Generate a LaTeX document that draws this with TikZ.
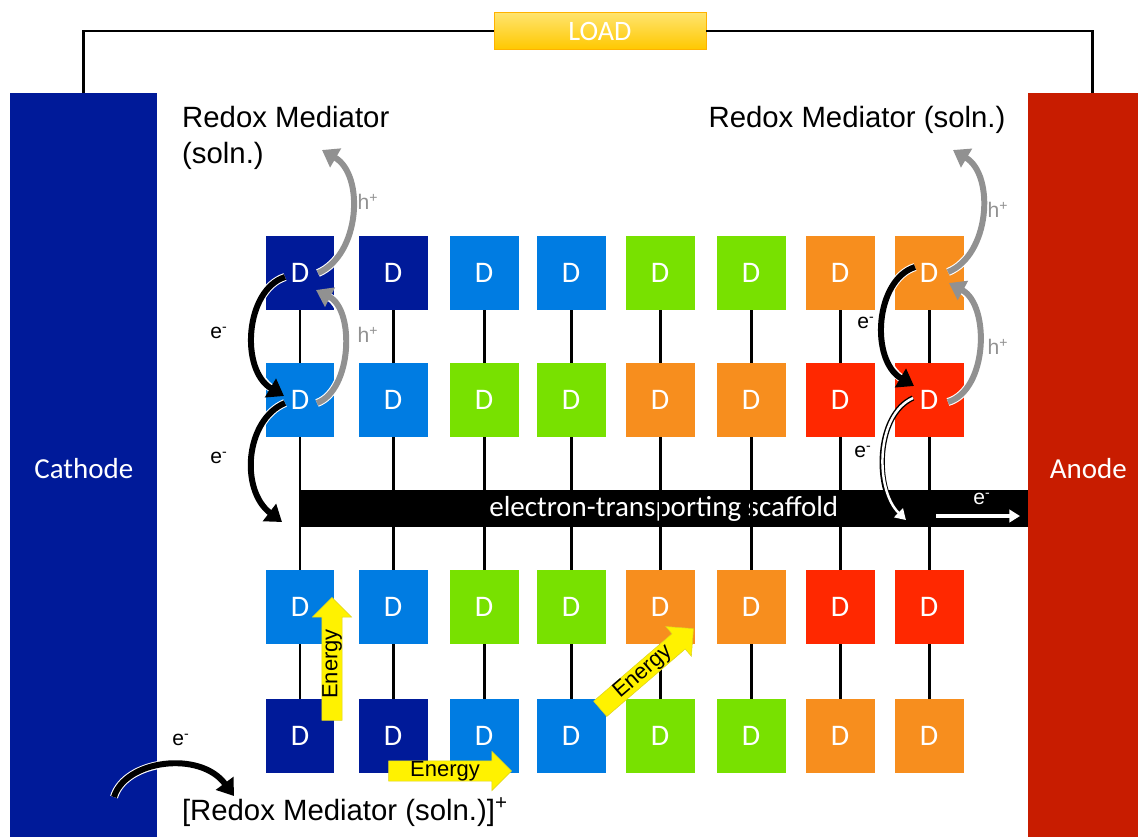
\documentclass[tikz,border=0pt]{standalone}
\usepackage{fontspec}
\setmainfont{Liberation Sans}
\newfontfamily\calfont{Carlito}
\usetikzlibrary{arrows.meta,shapes.arrows}

\definecolor{dkblue}{RGB}{0,26,153}
\definecolor{mdblue}{RGB}{0,124,226}
\definecolor{lgreen}{RGB}{120,225,0}
\definecolor{dorange}{RGB}{247,142,30}
\definecolor{dred}{RGB}{255,40,0}
\definecolor{anred}{RGB}{200,28,0}
\definecolor{hgray}{RGB}{145,145,145}
\definecolor{loadtop}{RGB}{255,228,110}
\definecolor{loadbot}{RGB}{255,200,0}

\tikzset{
  dbox/.style={minimum width=1.38cm, minimum height=1.48cm, inner sep=0pt,
    text=white, font=\calfont\fontsize{17}{20}\selectfont},
  electrode/.style={anchor=north west, inner sep=0pt, minimum height=15cm,
    text=white, font=\calfont\fontsize{16.5}{20}\selectfont},
  link/.style={line width=1.7pt},
  wire/.style={line width=1.6pt},
  earrow/.style={line width=3.4pt, black, -{Triangle[width=12pt,length=9pt]},
    preaction={draw=white, line width=4.6pt, -, shorten >=7pt}},
  harrow/.style={line width=3.4pt, hgray, -{Triangle[width=12pt,length=9pt]},
    preaction={draw=white, line width=4.6pt, -, shorten >=7pt}},
  energy/.style={single arrow, fill=yellow, draw=yellow!85!black, line width=0.3pt,
    inner sep=0pt, inner xsep=2pt, minimum height=2.46cm, minimum width=0.76cm,
    single arrow head extend=0.19cm, font=\fontsize{12.5}{13}\selectfont},
  lbl/.style={font=\fontsize{16.7}{20.5}\selectfont},
  small/.style={font=\fontsize{12}{14}\selectfont}
}

\begin{document}
\begin{tikzpicture}[x=0.02cm, y=-0.02cm]
    \useasboundingbox (0,0) rectangle (1138,836);

    % Electrodes
    \node[electrode, fill=dkblue, minimum width=2.94cm] (cathode) at (10,93) {Cathode};
    \node[electrode, fill=anred, minimum width=2.56cm] (anode) at (1028,93) {Anode\hspace*{0.16cm}};

    % Load and external circuit
    \node[top color=loadtop, bottom color=loadbot, draw=orange!60!yellow, line width=0.4pt,
      minimum width=4.24cm, minimum height=0.74cm, text=white,
      font=\calfont\fontsize{16}{18}\selectfont] (load) at (600,31) {LOAD};
    \draw[wire] (cathode.north) |- (load.west);
    \draw[wire] (load.east) -| (anode.north);

    % Scaffold
    \node[fill=black, anchor=north west, inner sep=0pt, minimum width=14.58cm, minimum height=0.74cm,
      text=white, font=\calfont\fontsize{16.5}{20}\selectfont] (scaffold) at (299,490) {electron-transporting scaffold};

    % Dye columns
    \foreach \c/\x/\ca/\cb in {1/300/dkblue/mdblue, 2/393/dkblue/mdblue, 3/484/mdblue/lgreen,
        4/571/mdblue/lgreen, 5/660/lgreen/dorange, 6/751/lgreen/dorange, 7/840/dorange/dred, 8/929/dorange/dred} {
      \node[dbox, fill=\ca] (top\c) at (\x,273) {D};
      \node[dbox, fill=\cb] (mid\c) at (\x,400) {D};
      \node[dbox, fill=\cb] (low\c) at (\x,607) {D};
      \node[dbox, fill=\ca] (bot\c) at (\x,736) {D};
      \draw[link] (top\c.south) -- (mid\c.north) (mid\c.south) -- (low\c.north) (low\c.south) -- (bot\c.north);
    }

    % Labels
    \node[lbl, anchor=west, align=left] (medL) at (176,138) {Redox Mediator\\(soln.)};
    \node[lbl] (medR) at (857,120) {Redox Mediator (soln.)};
    \node[lbl] (medB) at (345,812) {[Redox Mediator (soln.)]\textsuperscript{+}};

    % Energy transfer
    \node[energy, rotate=90] (en1) at (332,664) {Energy};
    \node[energy] (en2) at (445,771) {Energy};
    \node[energy, rotate=40.7] (en3) at (643,672) {Energy};

    % Free ends
    \coordinate (hL) at (322,150);
    \coordinate (hR) at (953,150);
    \coordinate (eL) at (282,522);
    \coordinate (eR) at (908,522);
    \coordinate (eA) at (936,516);
    \coordinate (eB) at (1020,516);
    \coordinate (cA) at (114,797);
    \coordinate (cB) at (234,796);

    % Hole transfer, left
    \draw[harrow] ([xshift=0.36cm]top1.center) .. controls (360,255) and (365,175) .. (hL);
    \draw[harrow] ([xshift=0.34cm,yshift=-0.06cm]mid1.center) .. controls (352,390) and (355,310) .. ([xshift=0.32cm,yshift=-0.34cm]top1.center);
    \node[small, hgray] (h1) at (368,202) {h\textsuperscript{+}};
    \node[small, hgray] (h2) at (368,335) {h\textsuperscript{+}};

    % Electron transfer, left
    \draw[earrow] ([xshift=-0.3cm,yshift=-0.08cm]top1.center) .. controls (245,290) and (240,370) .. ([xshift=-0.32cm,yshift=0.08cm]mid1.center);
    \draw[earrow] ([xshift=-0.3cm,yshift=-0.06cm]mid1.center) .. controls (245,420) and (240,490) .. (eL);
    \node[small] (e1) at (219,333) {e\textsuperscript{-}};
    \node[small] (e2) at (219,458) {e\textsuperscript{-}};

    % Hole transfer, right
    \draw[harrow] ([xshift=0.38cm,yshift=0.02cm]top8.center) .. controls (990,255) and (995,175) .. (hR);
    \draw[harrow] ([xshift=0.38cm,yshift=-0.04cm]mid8.center) .. controls (988,390) and (990,305) .. ([xshift=0.4cm,yshift=-0.2cm]top8.center);
    \node[small, hgray] (h3) at (998,210) {h\textsuperscript{+}};
    \node[small, hgray] (h4) at (998,347) {h\textsuperscript{+}};

    % Electron transfer, right
    \draw[earrow] ([xshift=-0.28cm,yshift=0.12cm]top8.center) .. controls (875,280) and (870,360) .. ([xshift=-0.3cm,yshift=0.28cm]mid8.center);
    \draw[line width=3pt, -{Triangle[width=11pt,length=9pt]}] ([xshift=-0.32cm,yshift=0.04cm]mid8.center) .. controls (875,415) and (875,490) .. (eR);
    \draw[white, line width=1.4pt, -{Triangle[width=7pt,length=6pt]}, shorten >=1.6pt] ([xshift=-0.32cm,yshift=0.04cm]mid8.center) .. controls (875,415) and (875,490) .. (eR);
    \node[small] (e3) at (866,323) {e\textsuperscript{-}};
    \node[small] (e4) at (863,452) {e\textsuperscript{-}};

    % Electron into anode
    \draw[white, line width=1.8pt, -{Triangle[width=7pt,length=6pt]}] (eA) -- (eB);
    \node[small, white] (e5) at (982,499) {e\textsuperscript{-}};

    % Electron from cathode
    \draw[earrow] (cA) .. controls (125,760) and (200,750) .. (cB);
    \node[small] (e6) at (181,740) {e\textsuperscript{-}};

\end{tikzpicture}
\end{document}
